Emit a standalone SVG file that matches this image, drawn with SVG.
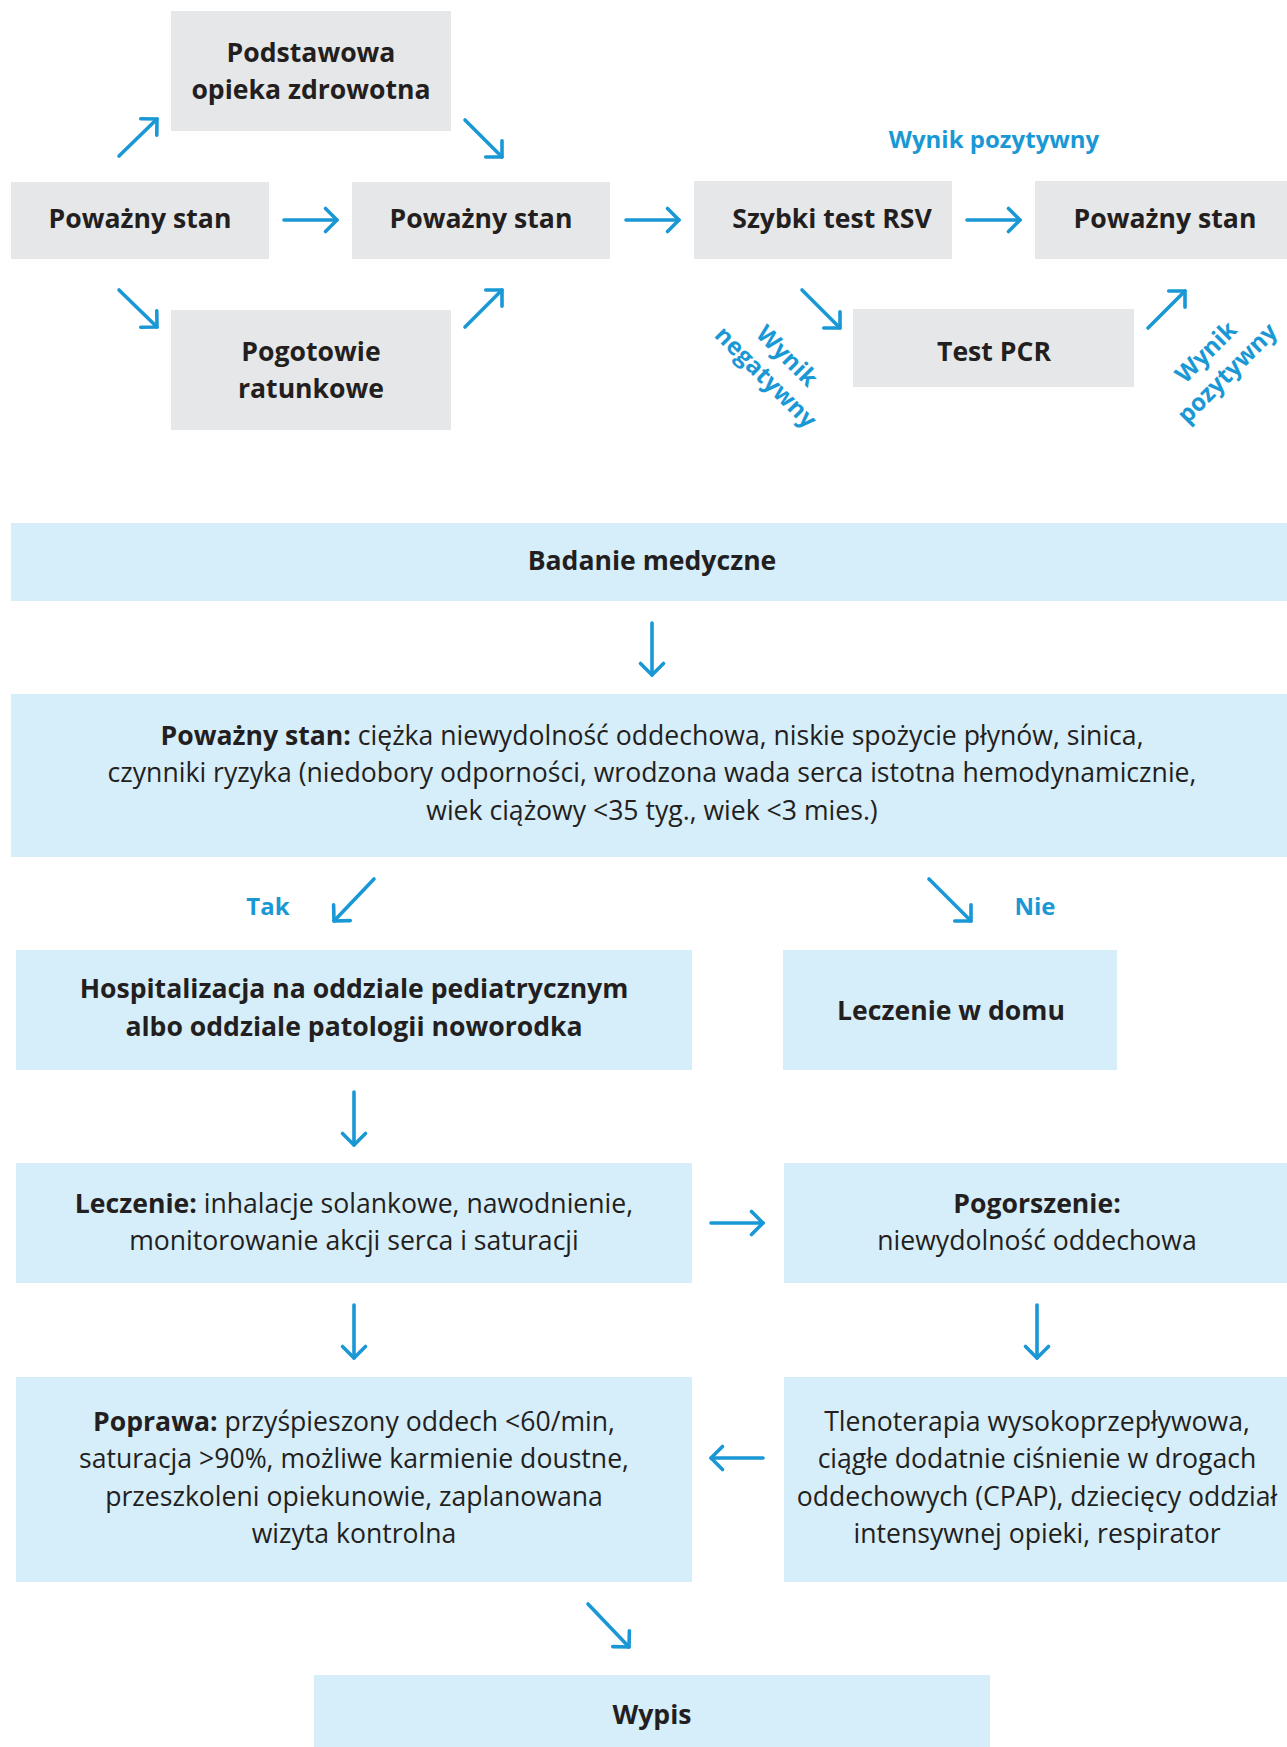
<svg xmlns="http://www.w3.org/2000/svg" width="1287" height="1747" viewBox="0 0 1287 1747">
<style>
.g{fill:#E6E7E8}
.b{fill:#D6EDFA}
.t{font-family:"Open Sans","Noto Sans","Liberation Sans",sans-serif;font-size:26.6px;fill:#231F20;text-anchor:middle}
.bd{font-weight:700}
.lbl{font-family:"Open Sans","Noto Sans","Liberation Sans",sans-serif;font-size:24px;font-weight:700;fill:#1A98D5;text-anchor:middle}
.c line{stroke:#1A98D5;stroke-width:3.6;stroke-linecap:round;fill:none}
</style>
<defs>
<marker id="ah" markerUnits="userSpaceOnUse" markerWidth="40" markerHeight="40" viewBox="-20 -20 40 40" refX="0" refY="0" orient="auto" overflow="visible">
<path d="M-11.5,-11.5 L0,0 L-11.5,11.5" fill="none" stroke="#1A98D5" stroke-width="3.6" stroke-linecap="round" stroke-linejoin="round"/>
</marker>
</defs>
<rect width="1287" height="1747" fill="#FFFFFF"/>

<g id="n-podstawowa"><rect class="g" x="171" y="11" width="280" height="120"/><text class="t bd"><tspan x="311" y="62">Podstawowa</tspan><tspan x="311" y="99">opieka zdrowotna</tspan></text></g>
<g id="n-powazny1"><rect class="g" x="11" y="182" width="258" height="77"/><text class="t bd" x="140" y="228">Poważny stan</text></g>
<g id="n-powazny2"><rect class="g" x="352" y="182" width="258" height="77"/><text class="t bd" x="481" y="228">Poważny stan</text></g>
<g id="n-pogotowie"><rect class="g" x="171" y="310" width="280" height="120"/><text class="t bd"><tspan x="311" y="361">Pogotowie</tspan><tspan x="311" y="398">ratunkowe</tspan></text></g>
<g id="n-szybki"><rect class="g" x="694" y="181" width="258" height="78"/><text class="t bd" x="832" y="228">Szybki test RSV</text></g>
<g id="n-powazny4"><rect class="g" x="1035" y="181" width="252" height="78"/><text class="t bd" x="1165" y="228">Poważny stan</text></g>
<g id="n-pcr"><rect class="g" x="853" y="309" width="281" height="78"/><text class="t bd" x="994" y="361">Test PCR</text></g>

<g id="n-badanie"><rect class="b" x="11" y="523" width="1276" height="78"/><text class="t bd" x="652" y="570">Badanie medyczne</text></g>
<g id="n-stan"><rect class="b" x="11" y="694" width="1276" height="163"/><text class="t"><tspan x="652" y="745"><tspan class="bd">Poważny stan:</tspan> ciężka niewydolność oddechowa, niskie spożycie płynów, sinica,</tspan><tspan x="652" y="782">czynniki ryzyka (niedobory odporności, wrodzona wada serca istotna hemodynamicznie,</tspan><tspan x="652" y="819.5">wiek ciążowy &lt;35 tyg., wiek &lt;3 mies.)</tspan></text></g>
<g id="n-hosp"><rect class="b" x="16" y="950" width="676" height="120"/><text class="t bd"><tspan x="354" y="998">Hospitalizacja na oddziale pediatrycznym</tspan><tspan x="354" y="1036">albo oddziale patologii noworodka</tspan></text></g>
<g id="n-dom"><rect class="b" x="783" y="950" width="334" height="120"/><text class="t bd" x="951" y="1020">Leczenie w domu</text></g>
<g id="n-leczenie"><rect class="b" x="16" y="1163" width="676" height="120"/><text class="t"><tspan x="354" y="1212.5"><tspan class="bd">Leczenie:</tspan> inhalacje solankowe, nawodnienie,</tspan><tspan x="354" y="1249.5">monitorowanie akcji serca i saturacji</tspan></text></g>
<g id="n-pogorszenie"><rect class="b" x="784" y="1163" width="503" height="120"/><text class="t"><tspan class="bd" x="1037" y="1212.5">Pogorszenie:</tspan><tspan x="1037" y="1249.5">niewydolność oddechowa</tspan></text></g>
<g id="n-poprawa"><rect class="b" x="16" y="1377" width="676" height="205"/><text class="t"><tspan x="354" y="1430.5"><tspan class="bd">Poprawa:</tspan> przyśpieszony oddech &lt;60/min,</tspan><tspan x="354" y="1468">saturacja &gt;90%, możliwe karmienie doustne,</tspan><tspan x="354" y="1505.5">przeszkoleni opiekunowie, zaplanowana</tspan><tspan x="354" y="1543">wizyta kontrolna</tspan></text></g>
<g id="n-tleno"><rect class="b" x="784" y="1377" width="503" height="205"/><text class="t"><tspan x="1037" y="1430.5">Tlenoterapia wysokoprzepływowa,</tspan><tspan x="1037" y="1468">ciągłe dodatnie ciśnienie w drogach</tspan><tspan x="1037" y="1505.5">oddechowych (CPAP), dziecięcy oddział</tspan><tspan x="1037" y="1543">intensywnej opieki, respirator</tspan></text></g>
<g id="n-wypis"><rect class="b" x="314" y="1675" width="676" height="72"/><text class="t bd" x="652" y="1724">Wypis</text></g>

<g id="connectors" class="c">
<line x1="119" y1="156" x2="157" y2="119" marker-end="url(#ah)"/>
<line x1="465" y1="120" x2="502" y2="157" marker-end="url(#ah)"/>
<line x1="284" y1="220" x2="337" y2="220" marker-end="url(#ah)"/>
<line x1="119" y1="290" x2="157" y2="327" marker-end="url(#ah)"/>
<line x1="465" y1="327" x2="502" y2="290" marker-end="url(#ah)"/>
<line x1="626" y1="220" x2="679" y2="220" marker-end="url(#ah)"/>
<line x1="967" y1="220" x2="1020" y2="220" marker-end="url(#ah)"/>
<line x1="802" y1="290" x2="840" y2="328" marker-end="url(#ah)"/>
<line x1="1148" y1="328" x2="1185" y2="291" marker-end="url(#ah)"/>
<line x1="652" y1="623" x2="652" y2="675" marker-end="url(#ah)"/>
<line x1="374" y1="879" x2="334" y2="921" marker-end="url(#ah)"/>
<line x1="929" y1="879" x2="971" y2="921" marker-end="url(#ah)"/>
<line x1="354" y1="1092" x2="354" y2="1145" marker-end="url(#ah)"/>
<line x1="711" y1="1223" x2="763" y2="1223" marker-end="url(#ah)"/>
<line x1="354" y1="1305" x2="354" y2="1358" marker-end="url(#ah)"/>
<line x1="1037" y1="1305" x2="1037" y2="1358" marker-end="url(#ah)"/>
<line x1="763" y1="1458" x2="711" y2="1458" marker-end="url(#ah)"/>
<line x1="588" y1="1604" x2="629" y2="1647" marker-end="url(#ah)"/>
<text class="lbl" x="994" y="148">Wynik pozytywny</text>
<text class="lbl" transform="translate(777,366) rotate(45)"><tspan x="0" y="-6">Wynik</tspan><tspan x="0" y="24">negatywny</tspan></text>
<text class="lbl" transform="translate(1216,362) rotate(-45)"><tspan x="0" y="-6">Wynik</tspan><tspan x="0" y="24">pozytywny</tspan></text>
<text class="lbl" x="268" y="915">Tak</text>
<text class="lbl" x="1035" y="915">Nie</text>
</g>
</svg>
